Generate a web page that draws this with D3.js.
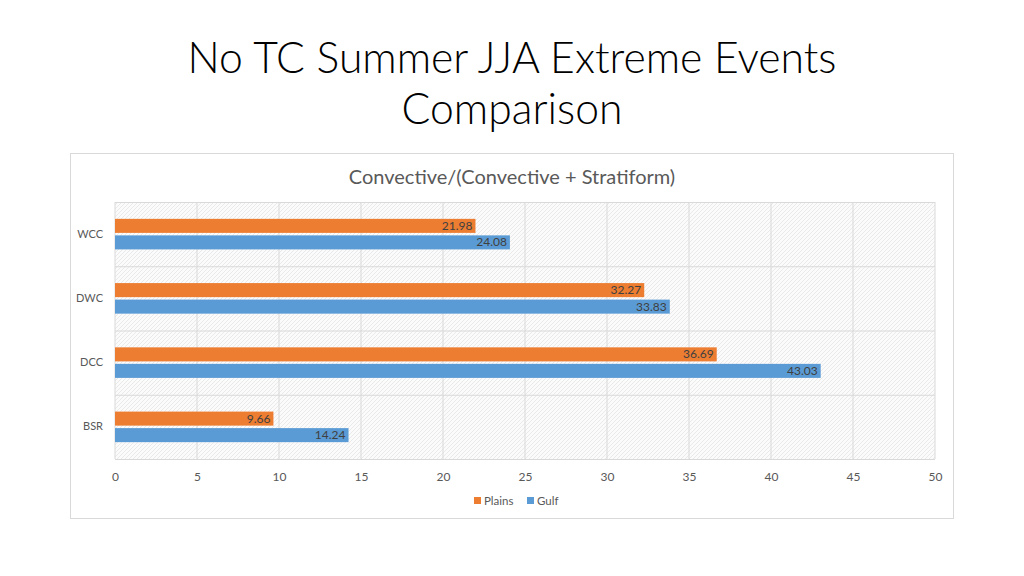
<!DOCTYPE html>
<html>
<head>
<meta charset="utf-8">
<script src="https://cdn.jsdelivr.net/npm/d3@7"></script>
<style>
  body { margin: 0; background: #fff; }
  svg { display: block; }
</style>
</head>
<body>
<svg id="chart" width="1024" height="576"></svg>
<script>
// data
var categories = ["WCC", "DWC", "DCC", "BSR"];
var seriesNames = ["Plains", "Gulf"];
var plains = [21.98, 32.27, 36.69, 9.66];
var gulf = [24.08, 33.83, 43.03, 14.24];
var xTicks = [0, 5, 10, 15, 20, 25, 30, 35, 40, 45, 50];
var colors = ["#ED7D31", "#5B9BD5"];

var svg = d3.select("#chart");
var font = "Lato, 'Open Sans', sans-serif";

// slide title
var title = svg.append("text")
    .attr("text-anchor", "middle")
    .attr("font-family", font)
    .attr("font-weight", 300)
    .attr("font-size", 42.7)
    .attr("fill", "#000");
title.append("tspan").attr("x", 512).attr("y", 73).text("No TC Summer JJA Extreme Events");
title.append("tspan").attr("x", 512).attr("y", 124).text("Comparison");

// chart box
svg.append("rect")
    .attr("x", 70.5).attr("y", 153.5)
    .attr("width", 883).attr("height", 365)
    .attr("fill", "#fff")
    .attr("stroke", "#d9d9d9");

svg.append("text")
    .attr("x", 512).attr("y", 184)
    .attr("text-anchor", "middle")
    .attr("font-family", font)
    .attr("font-size", 20)
    .attr("fill", "#595959")
    .text("Convective/(Convective + Stratiform)");

// hatch pattern for plot area
var defs = svg.append("defs");
var pat = defs.append("pattern")
    .attr("id", "hatch")
    .attr("patternUnits", "userSpaceOnUse")
    .attr("width", 4).attr("height", 4);
pat.append("rect").attr("width", 4).attr("height", 4).attr("fill", "#fbfbfb");
pat.append("path")
    .attr("d", "M-1,1 l2,-2 M0,4 l4,-4 M3,5 l2,-2")
    .attr("stroke", "#e4e4e4")
    .attr("stroke-width", 0.8);

var margin = { left: 115, top: 202, right: 935, bottom: 459 };

var x = d3.scaleLinear()
    .domain([0, 50])
    .range([margin.left, margin.right]);

var y = d3.scaleBand()
    .domain(categories)
    .range([margin.top, margin.bottom]);

var inner = d3.scaleBand()
    .domain(seriesNames)
    .range([0, y.bandwidth()])
    .paddingInner(0.15)
    .paddingOuter(1.02);

svg.append("rect")
    .attr("x", margin.left).attr("y", margin.top)
    .attr("width", margin.right - margin.left)
    .attr("height", margin.bottom - margin.top)
    .attr("fill", "url(#hatch)");

// gridlines
svg.append("g")
    .selectAll("line")
    .data(xTicks)
    .enter().append("line")
    .attr("x1", function (d) { return x(d); })
    .attr("x2", function (d) { return x(d); })
    .attr("y1", margin.top)
    .attr("y2", margin.bottom)
    .attr("stroke", "#d9d9d9");

var hLines = categories.map(function (c) { return y(c); }).concat([margin.bottom]);
svg.append("g")
    .selectAll("line")
    .data(hLines)
    .enter().append("line")
    .attr("x1", margin.left)
    .attr("x2", margin.right)
    .attr("y1", function (d) { return d + 0.5; })
    .attr("y2", function (d) { return d + 0.5; })
    .attr("stroke", "#d9d9d9");

// x axis labels
var xAxis = svg.append("g")
    .attr("transform", "translate(0," + (margin.bottom + 1) + ")")
    .call(d3.axisBottom(x).tickValues(xTicks).tickSize(0).tickPadding(12));
xAxis.select(".domain").remove();
xAxis.selectAll("text")
    .attr("font-family", font)
    .attr("font-size", 12)
    .attr("fill", "#595959");

// y axis labels
var yAxis = svg.append("g")
    .attr("transform", "translate(" + margin.left + ",0)")
    .call(d3.axisLeft(y).tickSize(0).tickPadding(12));
yAxis.select(".domain").remove();
yAxis.selectAll("text")
    .attr("font-family", font)
    .attr("font-size", 11)
    .attr("fill", "#595959");

// bars
var rows = categories.map(function (c, i) {
    return { cat: c, values: [plains[i], gulf[i]] };
});

var group = svg.selectAll(".cat")
    .data(rows)
    .enter().append("g")
    .attr("class", "cat")
    .attr("transform", function (d) { return "translate(0," + y(d.cat) + ")"; });

group.selectAll("rect")
    .data(function (d) { return d.values.map(function (v, j) { return { name: seriesNames[j], v: v, j: j }; }); })
    .enter().append("rect")
    .attr("x", x(0))
    .attr("y", function (d) { return inner(d.name); })
    .attr("width", function (d) { return x(d.v) - x(0); })
    .attr("height", inner.bandwidth())
    .attr("fill", function (d) { return colors[d.j]; });

group.selectAll("text.lbl")
    .data(function (d) { return d.values.map(function (v, j) { return { name: seriesNames[j], v: v, j: j }; }); })
    .enter().append("text")
    .attr("class", "lbl")
    .attr("x", function (d) { return x(d.v) - 3; })
    .attr("y", function (d) { return inner(d.name) + inner.bandwidth() / 2 + 4; })
    .attr("text-anchor", "end")
    .attr("font-family", font)
    .attr("font-size", 12)
    .attr("fill", "#404040")
    .text(function (d) { return d.v.toFixed(2); });

// legend
var legend = svg.append("g").attr("transform", "translate(474,501)");
var lx = [0, 53];
seriesNames.forEach(function (s, i) {
    legend.append("rect")
        .attr("x", lx[i]).attr("y", -4)
        .attr("width", 7).attr("height", 7)
        .attr("fill", colors[i]);
    legend.append("text")
        .attr("x", lx[i] + 10).attr("y", 4)
        .attr("font-family", font)
        .attr("font-size", 11.5)
        .attr("fill", "#595959")
        .text(s);
});
</script>
</body>
</html>
